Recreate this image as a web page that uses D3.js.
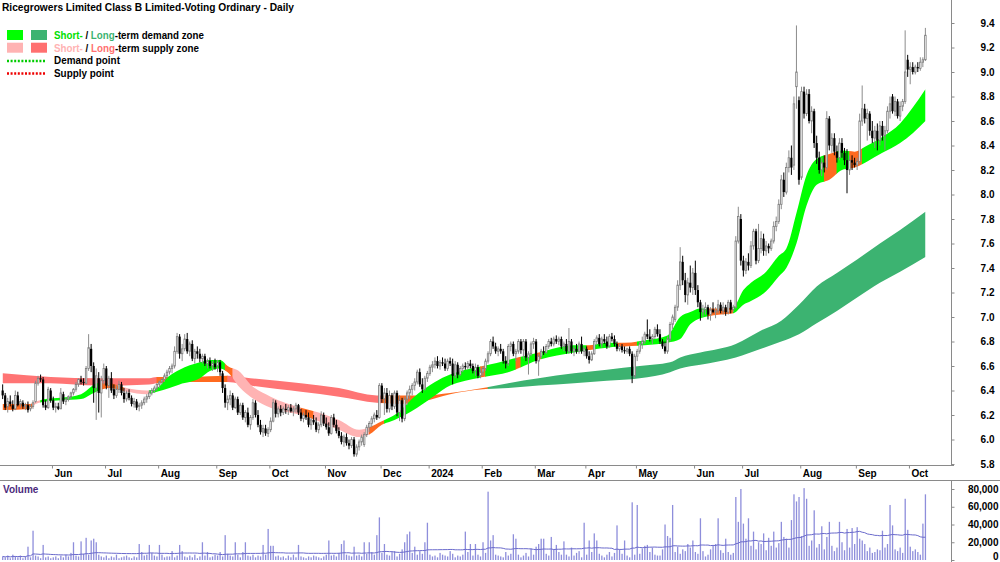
<!DOCTYPE html>
<html><head><meta charset="utf-8">
<script src="https://cdn.jsdelivr.net/npm/d3@7"></script>
<style>
body{margin:0;background:#fff}
svg{display:block;font-family:"Liberation Sans",Arial,sans-serif}
text{white-space:pre}
</style>
</head><body>
<svg id="c" width="1000" height="562"></svg>
<script>
// ---------------- DATA ----------------
const title = "Ricegrowers Limited Class B Limited-Voting Ordinary - Daily";
const startDate = "2023-05-04";
const endDate = "2024-10-09";
const holidays = ["2023-06-12","2023-12-25","2023-12-26","2024-01-01","2024-01-26","2024-03-29","2024-04-01","2024-04-25","2024-06-10"];

// daily [open, high, low, close]
const ohlc = [
[6.40,6.45,6.33,6.36],[6.36,6.38,6.24,6.26],[6.27,6.34,6.22,6.31],[6.31,6.36,6.27,6.29],[6.28,6.32,6.23,6.25],
[6.25,6.40,6.24,6.36],[6.36,6.39,6.27,6.28],[6.29,6.33,6.26,6.31],[6.30,6.32,6.25,6.27],[6.27,6.30,6.24,6.28],
[6.28,6.31,6.22,6.24],[6.25,6.29,6.23,6.27],[6.27,6.32,6.25,6.30],[6.31,6.48,6.30,6.46],[6.46,6.52,6.44,6.50],
[6.50,6.53,6.47,6.49],[6.49,6.51,6.26,6.28],[6.28,6.32,6.24,6.26],[6.26,6.43,6.25,6.41],[6.40,6.42,6.30,6.32],
[6.32,6.35,6.24,6.26],[6.26,6.30,6.22,6.27],[6.27,6.30,6.24,6.25],[6.25,6.42,6.25,6.38],[6.37,6.39,6.29,6.31],
[6.31,6.34,6.28,6.33],[6.33,6.36,6.31,6.35],[6.35,6.39,6.33,6.38],[6.38,6.42,6.36,6.41],[6.41,6.47,6.39,6.45],
[6.45,6.50,6.43,6.49],[6.49,6.52,6.45,6.47],[6.47,6.50,6.44,6.46],[6.46,6.60,6.45,6.58],[6.58,6.86,6.56,6.75],
[6.74,6.78,6.55,6.60],[6.60,6.63,6.30,6.42],[6.42,6.58,6.16,6.52],[6.50,6.55,6.22,6.38],[6.38,6.52,6.18,6.48],
[6.48,6.62,6.45,6.58],[6.58,6.60,6.41,6.44],[6.44,6.52,6.34,6.50],[6.50,6.55,6.38,6.40],[6.41,6.45,6.33,6.36],
[6.36,6.44,6.34,6.41],[6.41,6.48,6.38,6.45],[6.45,6.47,6.36,6.38],[6.38,6.42,6.30,6.33],[6.33,6.40,6.31,6.38],
[6.38,6.41,6.32,6.34],[6.34,6.36,6.27,6.29],[6.29,6.34,6.26,6.31],[6.31,6.33,6.24,6.26],[6.27,6.30,6.23,6.28],
[6.28,6.32,6.25,6.30],[6.30,6.35,6.28,6.33],[6.33,6.37,6.30,6.35],[6.35,6.40,6.33,6.38],[6.38,6.42,6.36,6.40],
[6.40,6.44,6.38,6.42],[6.42,6.46,6.40,6.45],[6.45,6.48,6.42,6.47],[6.47,6.50,6.45,6.49],[6.49,6.54,6.47,6.52],
[6.52,6.57,6.50,6.55],[6.55,6.60,6.53,6.58],[6.58,6.62,6.54,6.60],[6.60,6.76,6.58,6.72],[6.72,6.87,6.70,6.84],
[6.84,6.86,6.66,6.70],[6.70,6.78,6.64,6.74],[6.74,6.86,6.72,6.82],[6.82,6.87,6.70,6.72],[6.72,6.80,6.68,6.78],
[6.78,6.81,6.64,6.66],[6.66,6.74,6.62,6.72],[6.72,6.76,6.66,6.70],[6.70,6.74,6.63,6.66],[6.66,6.70,6.62,6.68],
[6.68,6.70,6.60,6.62],[6.62,6.66,6.58,6.64],[6.64,6.67,6.58,6.60],[6.60,6.64,6.56,6.62],[6.62,6.66,6.57,6.59],
[6.60,6.65,6.55,6.63],[6.63,6.65,6.52,6.55],[6.54,6.56,6.38,6.42],[6.42,6.45,6.26,6.30],[6.30,6.36,6.24,6.33],
[6.33,6.40,6.28,6.36],[6.36,6.38,6.24,6.26],[6.26,6.35,6.25,6.33],[6.33,6.35,6.20,6.22],[6.22,6.30,6.20,6.28],
[6.28,6.30,6.16,6.18],[6.18,6.24,6.14,6.22],[6.22,6.26,6.10,6.12],[6.12,6.20,6.08,6.18],[6.18,6.33,6.16,6.30],
[6.30,6.32,6.18,6.20],[6.20,6.24,6.10,6.12],[6.12,6.16,6.04,6.06],[6.06,6.12,6.02,6.09],[6.09,6.12,6.03,6.05],
[6.05,6.10,6.02,6.08],[6.08,6.18,6.06,6.15],[6.15,6.33,6.14,6.30],[6.30,6.32,6.18,6.21],[6.21,6.27,6.18,6.25],
[6.25,6.28,6.19,6.22],[6.22,6.27,6.20,6.25],[6.25,6.29,6.21,6.24],[6.24,6.28,6.20,6.26],[6.26,6.29,6.22,6.23],
[6.23,6.27,6.19,6.25],[6.25,6.30,6.22,6.28],[6.28,6.29,6.20,6.22],[6.22,6.25,6.15,6.17],[6.17,6.22,6.14,6.20],
[6.20,6.24,6.16,6.18],[6.18,6.22,6.10,6.12],[6.12,6.18,6.08,6.16],[6.16,6.20,6.12,6.14],[6.14,6.18,6.06,6.08],
[6.08,6.14,6.05,6.12],[6.12,6.23,6.10,6.20],[6.20,6.22,6.11,6.13],[6.13,6.18,6.08,6.10],[6.10,6.14,6.03,6.05],
[6.05,6.20,6.04,6.18],[6.18,6.21,6.10,6.12],[6.12,6.16,6.05,6.07],[6.07,6.10,6.01,6.03],[6.03,6.06,5.96,5.98],
[5.98,6.04,5.94,6.02],[6.02,6.05,5.95,5.97],[5.97,6.00,5.92,5.95],[5.95,6.02,5.93,6.00],[6.00,6.02,5.86,5.88],
[5.88,5.96,5.86,5.94],[5.94,6.00,5.91,5.98],[5.98,6.04,5.95,6.02],[5.96,6.06,5.94,6.04],[6.04,6.12,6.02,6.10],
[6.10,6.15,6.06,6.13],[6.13,6.19,6.10,6.17],[6.17,6.22,6.14,6.20],[6.20,6.24,6.16,6.18],[6.18,6.46,6.17,6.44],
[6.44,6.46,6.30,6.33],[6.33,6.42,6.20,6.38],[6.38,6.42,6.22,6.25],[6.25,6.40,6.22,6.36],[6.36,6.38,6.24,6.27],
[6.27,6.40,6.25,6.38],[6.38,6.40,6.19,6.22],[6.22,6.36,6.15,6.32],[6.32,6.34,6.14,6.17],[6.17,6.35,6.15,6.33],
[6.33,6.40,6.28,6.38],[6.38,6.44,6.33,6.41],[6.41,6.46,6.36,6.44],[6.44,6.50,6.40,6.47],[6.47,6.57,6.45,6.55],
[6.55,6.58,6.43,6.45],[6.45,6.50,6.38,6.41],[6.41,6.52,6.40,6.50],[6.50,6.56,6.47,6.54],[6.54,6.61,6.52,6.59],
[6.59,6.64,6.55,6.61],[6.61,6.67,6.58,6.64],[6.64,6.68,6.58,6.60],[6.60,6.65,6.57,6.63],[6.63,6.67,6.60,6.62],
[6.62,6.66,6.56,6.58],[6.58,6.66,6.56,6.64],[6.64,6.67,6.60,6.62],[6.62,6.66,6.45,6.52],[6.52,6.64,6.50,6.61],
[6.61,6.63,6.50,6.53],[6.53,6.60,6.52,6.58],[6.58,6.62,6.55,6.60],[6.60,6.63,6.57,6.59],[6.59,6.64,6.57,6.62],
[6.62,6.65,6.58,6.60],[6.60,6.62,6.54,6.56],[6.56,6.62,6.52,6.59],[6.59,6.61,6.50,6.52],[6.52,6.58,6.50,6.55],
[6.55,6.60,6.52,6.58],[6.58,6.66,6.56,6.64],[6.64,6.72,6.62,6.70],[6.70,6.82,6.68,6.80],[6.80,6.84,6.74,6.76],
[6.76,6.79,6.70,6.72],[6.72,6.76,6.68,6.74],[6.74,6.78,6.70,6.72],[6.72,6.74,6.62,6.64],[6.64,6.68,6.58,6.62],
[6.62,6.78,6.60,6.76],[6.76,6.80,6.72,6.78],[6.78,6.80,6.68,6.70],[6.70,6.74,6.64,6.72],[6.72,6.82,6.70,6.80],
[6.80,6.82,6.70,6.73],[6.73,6.82,6.66,6.80],[6.80,6.82,6.64,6.67],[6.67,6.72,6.53,6.70],[6.70,6.80,6.68,6.78],
[6.78,6.83,6.74,6.80],[6.80,6.82,6.62,6.64],[6.64,6.70,6.52,6.68],[6.68,6.74,6.66,6.72],[6.72,6.76,6.69,6.71],
[6.71,6.78,6.70,6.76],[6.76,6.82,6.74,6.80],[6.80,6.83,6.76,6.78],[6.78,6.84,6.76,6.82],[6.82,6.85,6.78,6.80],
[6.80,6.84,6.77,6.82],[6.82,6.84,6.74,6.76],[6.76,6.80,6.72,6.78],[6.78,6.82,6.70,6.72],[6.72,6.91,6.70,6.80],
[6.80,6.82,6.70,6.72],[6.72,6.76,6.68,6.74],[6.74,6.78,6.70,6.72],[6.72,6.80,6.70,6.78],[6.78,6.84,6.70,6.72],
[6.72,6.76,6.68,6.74],[6.74,6.76,6.66,6.68],[6.68,6.72,6.62,6.65],[6.65,6.72,6.64,6.70],[6.70,6.82,6.69,6.80],
[6.80,6.85,6.77,6.83],[6.83,6.86,6.76,6.78],[6.78,6.84,6.75,6.82],[6.82,6.86,6.78,6.80],[6.80,6.84,6.74,6.76],
[6.76,6.86,6.75,6.84],[6.84,6.87,6.80,6.82],[6.82,6.85,6.76,6.78],[6.78,6.80,6.72,6.74],[6.74,6.78,6.72,6.76],
[6.76,6.78,6.71,6.73],[6.73,6.76,6.70,6.72],[6.72,6.75,6.70,6.74],[6.74,6.76,6.68,6.70],[6.70,6.72,6.46,6.52],
[6.52,6.70,6.50,6.68],[6.68,6.74,6.64,6.72],[6.72,6.80,6.70,6.78],[6.78,6.84,6.74,6.80],[6.80,6.88,6.78,6.86],
[6.86,6.98,6.82,6.84],[6.84,6.90,6.80,6.82],[6.82,6.86,6.78,6.84],[6.84,6.92,6.82,6.90],[6.90,6.94,6.84,6.86],
[6.86,6.90,6.78,6.80],[6.80,6.82,6.74,6.76],[6.76,6.80,6.70,6.72],[6.72,6.84,6.70,6.82],[6.82,6.96,6.80,6.94],
[6.94,7.02,6.90,7.00],[6.98,7.10,6.96,7.08],[7.08,7.30,7.05,7.26],[7.26,7.57,7.22,7.45],[7.45,7.50,7.26,7.30],
[7.30,7.36,7.12,7.18],[7.18,7.32,7.10,7.28],[7.28,7.42,7.20,7.24],[7.24,7.40,7.18,7.36],[7.36,7.46,7.18,7.22],
[7.22,7.26,7.08,7.12],[7.12,7.14,6.97,7.04],[7.04,7.10,7.00,7.06],[7.06,7.12,7.02,7.08],[7.08,7.10,6.98,7.02],
[7.02,7.08,6.97,7.06],[7.06,7.12,7.03,7.04],[7.04,7.08,6.99,7.05],[7.05,7.14,7.03,7.10],[7.10,7.12,7.03,7.05],
[7.05,7.12,7.02,7.08],[7.08,7.10,7.01,7.04],[7.04,7.14,7.02,7.12],[7.12,7.14,7.03,7.06],[7.06,7.10,7.04,7.08],
[7.08,7.66,7.07,7.62],[7.62,7.90,7.60,7.82],[7.80,7.84,7.42,7.46],[7.46,7.50,7.33,7.38],[7.38,7.48,7.35,7.45],
[7.45,7.52,7.38,7.42],[7.42,7.62,7.40,7.58],[7.58,7.72,7.55,7.70],[7.70,7.72,7.43,7.46],[7.46,7.76,7.44,7.56],
[7.56,7.70,7.52,7.64],[7.64,7.68,7.50,7.54],[7.54,7.62,7.50,7.58],[7.58,7.60,7.52,7.56],[7.56,7.64,7.54,7.62],
[7.62,7.78,7.60,7.74],[7.74,7.82,7.70,7.78],[7.78,7.96,7.76,7.92],[7.92,8.16,7.88,8.12],[8.12,8.18,7.98,8.02],
[8.02,8.26,8.00,8.22],[8.22,8.36,8.18,8.30],[8.30,8.40,8.16,8.22],[8.24,8.80,8.20,8.74],[8.88,9.38,8.70,9.00],
[8.77,8.80,8.08,8.12],[8.14,8.88,8.12,8.84],[8.84,8.88,8.62,8.66],[8.66,8.86,8.64,8.82],[8.82,8.86,8.58,8.60],
[8.60,8.72,8.50,8.68],[8.68,8.70,8.38,8.42],[8.42,8.48,8.25,8.30],[8.30,8.35,8.17,8.20],[8.20,8.30,8.15,8.26],
[8.26,8.32,8.18,8.22],[8.22,8.68,8.20,8.62],[8.62,8.64,8.36,8.40],[8.40,8.50,8.34,8.46],[8.46,8.50,8.32,8.35],
[8.35,8.40,8.26,8.30],[8.30,8.46,8.28,8.42],[8.42,8.46,8.30,8.34],[8.34,8.38,8.24,8.28],[8.28,8.37,8.01,8.20],
[8.20,8.32,8.16,8.28],[8.28,8.32,8.20,8.26],[8.26,8.30,8.22,8.24],[8.24,8.30,8.20,8.27],[8.27,8.66,8.25,8.60],
[8.60,8.89,8.56,8.70],[8.70,8.74,8.58,8.62],[8.62,8.70,8.44,8.66],[8.66,8.68,8.48,8.52],[8.52,8.60,8.42,8.46],
[8.46,8.56,8.38,8.52],[8.52,8.58,8.36,8.44],[8.44,8.60,8.40,8.56],[8.56,8.60,8.44,8.48],[8.48,8.56,8.36,8.52],
[8.52,8.72,8.50,8.68],[8.68,8.80,8.62,8.74],[8.80,8.82,8.66,8.68],[8.68,8.80,8.64,8.76],[8.76,8.78,8.62,8.64],
[8.64,8.76,8.60,8.72],[8.72,8.78,8.68,8.76],[8.76,9.34,8.74,9.00],[9.10,9.14,8.96,9.02],[9.02,9.08,8.90,9.04],
[9.04,9.08,8.98,9.00],[9.00,9.06,8.98,9.04],[9.04,9.08,9.00,9.03],[9.03,9.12,9.01,9.08],[9.08,9.12,9.04,9.10],
[9.10,9.36,9.09,9.30]
];

// daily volume, thousands of shares
const volumeK = [
4,3,5,2,6,4,3,5,2,4, 15,3,33,5,4,2,17,3,4,2, 3,4,2,5,3,6,4,8,20,5, 4,21,7,25,6,22,24,20,6,4,
3,5,2,4,3,6,2,3,4,5, 3,2,4,3,18,9,5,6,17,8, 5,4,17,6,3,4,4,10,3,5, 17,10,4,3,5,3,6,2,4,20,
5,9,3,4,6,5,9,4,28,7, 5,4,20,6,3,9,20,5,4,6, 3,5,4,17,6,35,16,16,4,5, 3,4,2,5,3,6,3,17,4,3,
2,4,3,5,4,3,2,4,6,22, 5,6,4,8,18,22,6,5,4,15, 5,6,4,20,7,20,9,6,28,48, 8,18,6,5,9,10,4,7,12,20,
29,32,8,15,6,10,7,20,42,6, 4,5,3,8,6,5,4,10,7,3, 5,4,6,32,9,18,5,18,6,4, 20,8,77,22,28,6,5,4,3,9,
5,7,29,24,6,3,5,8,4,13, 6,15,18,24,24,7,5,26,12,17, 9,6,21,6,4,14,5,8,10,3, 42,6,22,9,30,22,7,5,3,6,
9,4,8,39,12,7,22,5,3,65, 6,62,7,13,16,17,9,14,6,5, 5,12,40,27,25,62,9,15,7,12, 10,18,14,22,9,7,47,10,4,6,
12,16,18,47,11,8,24,9,6,8, 71,43,80,41,24,47,16,32,12,20, 18,30,11,25,16,32,14,19,43,26, 24,14,45,74,66,71,27,81,69,16,
22,56,14,18,38,12,26,43,16,10, 14,43,20,11,35,14,36,18,37,24, 22,18,10,14,8,9,12,11,33,14, 18,62,39,12,10,14,8,69,34,15,
10,12,9,6,41,74
];

// short-term zone (ribbon) edges, sampled at trading-day index
const shortIdx = [0,11,13,17,23,31,35,37,42,49,57,61,66,70,78,82,86,89,94,98,106,118,125,133,141,145,150,155,164,171,177,183,190,200,212,226,232,239,246,254,263,268,272,276,284,289,293,296,302,307,310,314,318,322,327,332,337,342,348,355,360,365];
const shortHi = [6.29,6.29,6.31,6.33,6.34,6.37,6.43,6.46,6.46,6.42,6.40,6.42,6.52,6.57,6.63,6.65,6.65,6.60,6.55,6.45,6.35,6.26,6.22,6.16,6.08,6.10,6.15,6.20,6.37,6.47,6.53,6.57,6.60,6.65,6.71,6.77,6.77,6.79,6.79,6.81,6.85,7.00,7.04,7.07,7.07,7.08,7.22,7.28,7.37,7.50,7.56,7.85,8.16,8.29,8.33,8.36,8.35,8.40,8.47,8.58,8.71,8.86];
const shortLo = [6.24,6.25,6.29,6.31,6.32,6.33,6.37,6.39,6.42,6.39,6.37,6.39,6.42,6.45,6.50,6.56,6.58,6.55,6.42,6.35,6.26,6.20,6.15,6.08,6.02,6.04,6.12,6.16,6.26,6.36,6.44,6.48,6.51,6.55,6.65,6.71,6.73,6.75,6.76,6.77,6.79,6.82,6.94,6.99,7.02,7.03,7.10,7.13,7.21,7.33,7.40,7.60,7.91,8.08,8.12,8.20,8.22,8.27,8.34,8.42,8.50,8.60];
const shortZones = [[0,12,"mixed"],[12,15,"supply"],[15,38,"demand"],[38,48,"mixed"],[48,58,"supply"],[58,88,"demand"],[88,91,"mixed"],[91,118,"supply"],[118,123,"mixed"],[123,145,"supply"],[145,151,"mixed"],[151,189,"demand"],[189,191,"mixed"],[191,203,"demand"],[203,205,"mixed"],[205,211,"demand"],[211,213,"mixed"],[213,231,"demand"],[231,234,"mixed"],[234,243,"demand"],[243,251,"mixed"],[251,279,"demand"],[279,289,"mixed"],[289,325,"demand"],[325,330,"mixed"],[330,335,"demand"],[335,340,"mixed"],[340,365,"demand"]];

// long-term zone edges
const longIdx = [0,19,38,58,61,74,89,98,118,133,148,157,166,177,190,200,212,226,239,252,264,268,276,290,300,308,315,322,330,338,347,355,365];
const longHi = [6.54,6.51,6.50,6.50,6.51,6.51,6.52,6.50,6.46,6.42,6.36,6.36,6.36,6.38,6.42,6.46,6.50,6.54,6.57,6.60,6.63,6.67,6.71,6.78,6.89,6.97,7.10,7.25,7.36,7.47,7.60,7.71,7.86];
const longLo = [6.46,6.46,6.44,6.45,6.46,6.47,6.47,6.44,6.39,6.35,6.30,6.29,6.31,6.37,6.41,6.42,6.44,6.46,6.48,6.50,6.55,6.58,6.61,6.67,6.74,6.80,6.86,6.95,7.05,7.16,7.28,7.37,7.49];
const longZones = [[0,61,"supply"],[61,89,"mixed"],[89,150,"supply"],[150,192,"mixed"],[192,365,"demand"]];

const priceTicks = [5.8,6.0,6.2,6.4,6.6,6.8,7.0,7.2,7.4,7.6,7.8,8.0,8.2,8.4,8.6,8.8,9.0,9.2,9.4];
const volumeTicks = [0,20000,40000,60000,80000];
const legendRows = [
  {parts:[["Short-","#00e000"],[" / ","#000"],["Long","#3cb371"],["-term demand zone","#000"]], sw:["#00ff00","#3cb371"], w:150},
  {parts:[["Short-","#ffb3b3"],[" / ","#000"],["Long","#ff7070"],["-term supply zone","#000"]], sw:["#ffb3b3","#ff7070"], w:145},
  {parts:[["Demand point","#000"]], dot:"#00cc00", w:66},
  {parts:[["Supply point","#000"]], dot:"#ee0000", w:60}
];

// ---------------- CHART ----------------
const svg = d3.select("#c");
const defs = svg.append("defs");
const FONT = "bold 10px 'Liberation Sans', Arial, sans-serif";

const x = d3.scaleLinear().domain([0,375]).range([2.66, 2.66 + 375*2.528]);
const y = d3.scaleLinear().domain([5.8,9.4]).range([464,23]);
const yv = d3.scaleLinear().domain([0,80000]).range([560,489]);
const AXX = 951;

// trading-day calendar
const parse = d3.timeParse("%Y-%m-%d"), fmt = d3.timeFormat("%Y-%m-%d");
const hol = new Set(holidays);
const dates = d3.timeDay.range(parse(startDate), d3.timeDay.offset(parse(endDate),1))
  .filter(d => d.getDay()%6 !== 0 && !hol.has(fmt(d)));

defs.append("clipPath").attr("id","plot").append("rect").attr("x",0).attr("y",0).attr("width",AXX).attr("height",465);

// bands
const colors = {
  short:{demand:"#00ff00", supply:"#ffb3b3", mixed:"#ff6a1f"},
  long:{demand:"#3cb371", supply:"#ff7474", mixed:"#ff6a1f"}
};
const gBands = svg.append("g").attr("clip-path","url(#plot)");
function drawBand(idx, hi, lo, zones, pal, id){
  const pts = idx.map((k,j)=>({i:k, hi:hi[j], lo:lo[j]}));
  const area = d3.area().x(d=>x(d.i)).y0(d=>y(d.lo)).y1(d=>y(d.hi)).curve(d3.curveMonotoneX);
  const dstr = area(pts);
  zones.forEach(([a,b,kind],z)=>{
    const cid = id + z;
    defs.append("clipPath").attr("id",cid).append("rect")
      .attr("x", x(a) - 0.3).attr("width", x(b) - x(a) + 0.6).attr("y",0).attr("height",465);
    gBands.append("path").attr("d",dstr).attr("fill",pal[kind]).attr("clip-path",`url(#${cid})`);
  });
}
drawBand(longIdx, longHi, longLo, longZones, colors.long, "lz");
drawBand(shortIdx, shortHi, shortLo, shortZones, colors.short, "sz");

// candles
const gC = svg.append("g").attr("clip-path","url(#plot)");
const cd = ohlc.map((d,i)=>({i, o:d[0], h:d[1], l:d[2], c:d[3], up:d[3]>=d[0]}));
gC.selectAll("line").data(cd).join("line")
  .attr("x1",d=>x(d.i)).attr("x2",d=>x(d.i))
  .attr("y1",d=>y(d.h)).attr("y2",d=>y(d.l))
  .attr("stroke",d=>d.up?"#8c8c8c":"#000").attr("stroke-width",1);
gC.selectAll("rect").data(cd).join("rect")
  .attr("x",d=>x(d.i) - (d.up?0.75:1.1))
  .attr("width",d=>d.up?1.5:2.2)
  .attr("y",d=>y(Math.max(d.o,d.c)))
  .attr("height",d=>Math.max(1, Math.abs(y(d.o)-y(d.c))))
  .attr("fill",d=>d.up?"#fff":"#000")
  .attr("stroke",d=>d.up?"#7a7a7a":"none").attr("stroke-width",0.8);

// frame lines
svg.append("line").attr("x1",0).attr("x2",AXX+3).attr("y1",465.5).attr("y2",465.5).attr("stroke","#8a8a8a");
svg.append("line").attr("x1",0).attr("x2",1000).attr("y1",480.5).attr("y2",480.5).attr("stroke","#8a8a8a");
svg.append("line").attr("x1",AXX+0.5).attr("x2",AXX+0.5).attr("y1",0).attr("y2",465.5).attr("stroke","#8a8a8a");
svg.append("line").attr("x1",AXX+0.5).attr("x2",AXX+0.5).attr("y1",480.5).attr("y2",562).attr("stroke","#8a8a8a");

// price axis
const ay = svg.append("g").attr("transform",`translate(${AXX+0.5},0)`)
  .call(d3.axisRight(y).tickValues(priceTicks).tickSize(3).tickFormat(d3.format(".1f")));
ay.select(".domain").remove();
ay.selectAll(".tick line").attr("stroke","#8a8a8a");
ay.selectAll("text").attr("x",43).attr("text-anchor","end").style("font",FONT).attr("fill","#000");

// month axis
const monthIdx = dates.map((d,i)=>i).filter(i=>i>0 && dates[i].getMonth()!==dates[i-1].getMonth());
const monthLabel = i => dates[i].getMonth()===0 ? d3.timeFormat("%Y")(dates[i]) : d3.timeFormat("%b")(dates[i]);
const ax = svg.append("g").attr("transform",`translate(0,465.5)`)
  .call(d3.axisBottom(x).tickValues(monthIdx.map(i=>i-0.5)).tickSize(3).tickFormat((v)=>monthLabel(Math.round(v+0.5))));
ax.select(".domain").remove();
ax.selectAll(".tick line").attr("stroke","#8a8a8a");
ax.selectAll("text").attr("text-anchor","start").attr("x",2).attr("y",4).attr("dy","0.71em").style("font",FONT).attr("fill","#000");

// volume
const vol = volumeK.map(v=>v*1000);
const gV = svg.append("g");
gV.selectAll("rect").data(vol).join("rect")
  .attr("x",(d,i)=>x(i)-0.6).attr("width",1.3)
  .attr("y",d=>yv(d)).attr("height",d=>yv(0)-yv(d))
  .attr("fill","#8e8edb");
const N = 50;
const ma = vol.map((v,i)=>d3.mean(vol.slice(Math.max(0,i-N+1), i+1)));
gV.append("path").datum(ma)
  .attr("d", d3.line().x((d,i)=>x(i)).y(d=>yv(d)))
  .attr("fill","none").attr("stroke","#6a6acc").attr("stroke-width",1);

const av = svg.append("g").attr("transform",`translate(${AXX+0.5},0)`)
  .call(d3.axisRight(yv).tickValues(volumeTicks).tickSize(3).tickFormat(d3.format(",")));
av.select(".domain").remove();
av.selectAll(".tick line").attr("stroke","#8a8a8a");
av.selectAll("text").attr("x",47).attr("text-anchor","end").style("font",FONT).attr("fill","#000")
  .attr("dy", d => d===0 ? "-0.05em" : "0.32em");

svg.append("text").attr("x",3).attr("y",493).text("Volume")
  .style("font",FONT).attr("fill","#4b2a7c");

// title
svg.append("text").attr("x",2).attr("y",11).text(title)
  .style("font","bold 11px 'Liberation Sans', Arial, sans-serif").attr("fill","#000")
  .attr("textLength",292).attr("lengthAdjust","spacingAndGlyphs");

// legend
const lg = svg.append("g");
legendRows.forEach((r,k)=>{
  const yy = 35 + k*12.7;
  if(r.sw){
    lg.append("rect").attr("x",7).attr("y",yy-5).attr("width",16).attr("height",10).attr("fill",r.sw[0]);
    lg.append("rect").attr("x",31).attr("y",yy-5).attr("width",16).attr("height",10).attr("fill",r.sw[1]);
  } else {
    lg.append("line").attr("x1",7).attr("x2",45).attr("y1",yy+0.5).attr("y2",yy+0.5)
      .attr("stroke",r.dot).attr("stroke-width",2.5).attr("stroke-dasharray","2,1.6");
  }
  const tg = lg.append("g");
  let cx = 0;
  r.parts.forEach(([s,c])=>{
    const t = tg.append("text").attr("x",cx).attr("y",0).attr("fill",c)
      .style("font","bold 11px 'Liberation Sans', Arial, sans-serif").text(s);
    cx += t.node().getComputedTextLength();
  });
  const sc = r.w / cx;
  tg.attr("transform",`translate(54,${yy+4}) scale(${sc},1)`);
});
</script>
</body></html>
